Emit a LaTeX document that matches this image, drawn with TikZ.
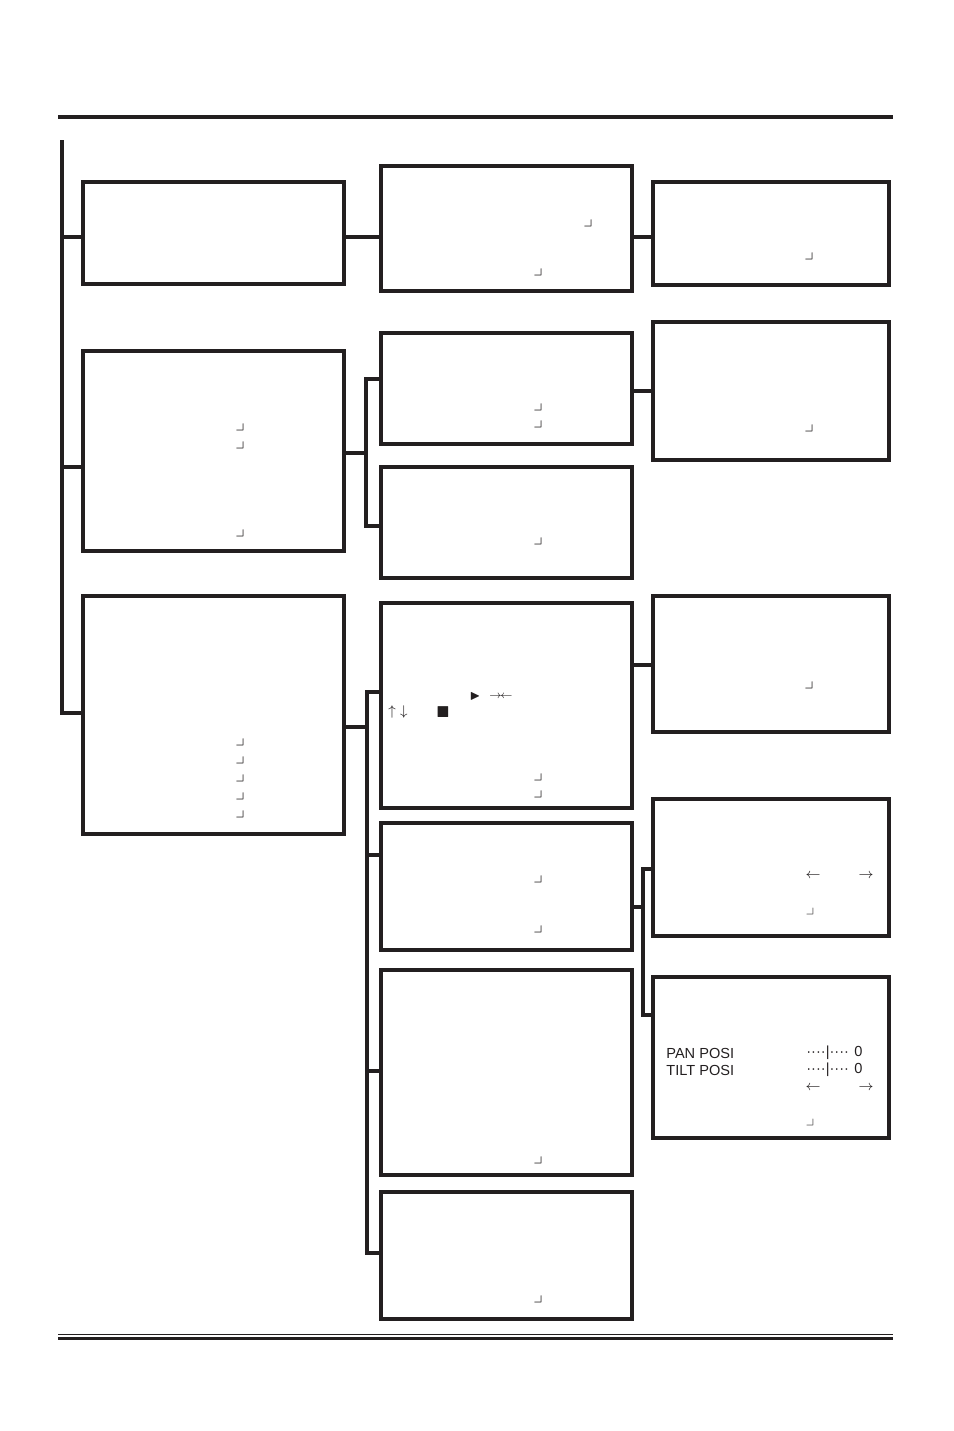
\documentclass[tikz,border=0pt]{standalone}
\usepackage{amssymb}
\usepackage{fontspec}
\newfontfamily\panfont{Liberation Sans}
\usetikzlibrary{positioning, fit}
\definecolor{inkblack}{HTML}{231F20}
\tikzset{%
  menubox/.style={
    draw=inkblack,
    line width=1.9pt,
    inner sep=0pt
  },
  link/.style={draw=inkblack, line width=1.9pt, line join=miter},
  retmark/.style={inner sep=0pt, anchor=base, text height=0.4em, text depth=0pt, text=inkblack, font=\fontsize{10.5}{11}\selectfont},
  smallmark/.style={retmark, text=inkblack!80, font=\normalsize},
  posilabel/.style={inner sep=0pt, anchor=west, text=inkblack, font=\panfont\fontsize{8.3}{10}\selectfont},
  symb/.style={inner sep=0pt, text=inkblack}
}
\newcommand{\entermark}{\smash{$\lrcorner$}}

\begin{document}
\begin{tikzpicture}[x=0.02cm, y=-0.02cm]
		\useasboundingbox (0,0) rectangle (954,1431);
		% page rules
		\coordinate (ruleTL) at (58,117);
		\coordinate (ruleTR) at (893,117);
		\coordinate (ruleBL) at (58,1334.5);
		\coordinate (ruleBR) at (893,1334.5);
		\draw[inkblack, line width=1.9pt] (ruleTL) -- (ruleTR);
		\draw[inkblack, line width=0.7pt] (ruleBL) -- (ruleBR);
		\draw[inkblack, line width=2.1pt] ([yshift=-4*0.02cm]ruleBL) -- ([yshift=-4*0.02cm]ruleBR);
		% first column
		\node[menubox, fit={(83,182) (344,284)}] (boxA) {};
		\node[menubox, fit={(83,351) (344,551)}] (boxB) {};
		\node[menubox, fit={(83,596) (344,834)}] (boxC) {};
		% second column
		\node[menubox, fit={(381,166) (632,291)}] (boxD) {};
		\node[menubox, fit={(381,333) (632,444)}] (boxE) {};
		\node[menubox, fit={(381,467) (632,578)}] (boxF) {};
		\node[menubox, fit={(381,603) (632,808)}] (boxG) {};
		\node[menubox, fit={(381,823) (632,950)}] (boxH) {};
		\node[menubox, fit={(381,970) (632,1175)}] (boxI) {};
		\node[menubox, fit={(381,1192) (632,1319)}] (boxJ) {};
		% third column
		\node[menubox, fit={(653,182) (889,285)}] (boxK) {};
		\node[menubox, fit={(653,322) (889,460)}] (boxL) {};
		\node[menubox, fit={(653,596) (889,732)}] (boxM) {};
		\node[menubox, fit={(653,799) (889,936)}] (boxN) {};
		\node[menubox, fit={(653,977) (889,1138)}] (boxO) {};
		% trunk
		\coordinate (trunkTop) at (62,140);
		\coordinate (jA) at (62,237);
		\coordinate (jB) at (62,467);
		\coordinate (jC) at (62,713);
		\draw[link] (trunkTop) -- (jC) -- (jC -| boxC.west);
		\draw[link] (jA) -- (jA -| boxA.west);
		\draw[link] (jB) -- (jB -| boxB.west);
		% first to second column
		\draw[link] (jA -| boxA.east) -- (jA -| boxD.west);
		\coordinate (bB) at (366,453);
		\coordinate (bE) at (366,379);
		\coordinate (bF) at (366,526);
		\draw[link] (bB -| boxB.east) -- (bB);
		\draw[link] (bE -| boxE.west) -- (bE) -- (bF) -- (bF -| boxF.west);
		\coordinate (cC) at (367,727);
		\coordinate (cG) at (367,692);
		\coordinate (cH) at (367,855);
		\coordinate (cI) at (367,1071);
		\coordinate (cJ) at (367,1253);
		\draw[link] (cC -| boxC.east) -- (cC);
		\draw[link] (cG -| boxG.west) -- (cG) -- (cJ) -- (cJ -| boxJ.west);
		\draw[link] (cH) -- (cH -| boxH.west);
		\draw[link] (cI) -- (cI -| boxI.west);
		% second to third column
		\draw[link] (jA -| boxD.east) -- (jA -| boxK.west);
		\coordinate (jEL) at (640,391);
		\draw[link] (jEL -| boxE.east) -- (jEL -| boxL.west);
		\coordinate (jGM) at (640,665);
		\draw[link] (jGM -| boxG.east) -- (jGM -| boxM.west);
		\coordinate (hH) at (643,907);
		\coordinate (hN) at (643,869);
		\coordinate (hO) at (643,1015);
		\draw[link] (hH -| boxH.east) -- (hH);
		\draw[link] (hN -| boxN.west) -- (hN) -- (hO) -- (hO -| boxO.west);
		% marks, first column
		\node[retmark] (mB1) at (240,430) {\entermark};
		\node[retmark] (mB2) at (240,448) {\entermark};
		\node[retmark] (mB3) at (240,536) {\entermark};
		\node[retmark] (mC1) at (240,745) {\entermark};
		\node[retmark] (mC2) at (240,763) {\entermark};
		\node[retmark] (mC3) at (240,781) {\entermark};
		\node[retmark] (mC4) at (240,799) {\entermark};
		\node[retmark] (mC5) at (240,817) {\entermark};
		% marks, second column
		\node[retmark] (mD1) at (588,226) {\entermark};
		\node[retmark] (mD2) at (538,275) {\entermark};
		\node[retmark] (mE1) at (538,410) {\entermark};
		\node[retmark] (mE2) at (538,427) {\entermark};
		\node[retmark] (mF1) at (538,544) {\entermark};
		\node[retmark] (mG1) at (538,780) {\entermark};
		\node[retmark] (mG2) at (538,797) {\entermark};
		\node[retmark] (mH1) at (538,882) {\entermark};
		\node[retmark] (mH2) at (538,932) {\entermark};
		\node[retmark] (mI1) at (538,1163) {\entermark};
		\node[retmark] (mJ1) at (538,1302) {\entermark};
		% marks, third column
		\node[retmark] (mK1) at (809,259) {\entermark};
		\node[retmark] (mL1) at (809,431) {\entermark};
		\node[retmark] (mM1) at (809,688) {\entermark};
		\node[smallmark] (mN1) at (810,914) {\entermark};
		\node[smallmark] (mO1) at (810,1125) {\entermark};
		% symbols in box G
		\node[symb, font=\scriptsize] (playG) at (475,696) {$\blacktriangleright$};
		\node[symb, font=\fontsize{6}{7}\selectfont] (inG) at (501,696) {$\rightarrow\!\leftarrow$};
		\node[symb, font=\footnotesize] (updownG) at (398,712) {$\uparrow\;\downarrow$};
		\node[symb, font=\small] (stopG) at (443,712) {$\blacksquare$};
		% box N
		\node[symb, font=\footnotesize] (leftN) at (813,876) {$\leftarrow$};
		\node[symb, font=\footnotesize] (rightN) at (866,876) {$\rightarrow$};
		% box O
		\node[posilabel] (pan) at (666,1053) {PAN POSI};
		\node[posilabel] (tilt) at (666,1070) {TILT POSI};
		\node[posilabel] (panbar) at (806,1053) {····|····\hspace{3pt}0};
		\node[posilabel] (tiltbar) at (806,1070) {····|····\hspace{3pt}0};
		\node[symb, font=\footnotesize] (leftO) at (813,1088) {$\leftarrow$};
		\node[symb, font=\footnotesize] (rightO) at (866,1088) {$\rightarrow$};
\end{tikzpicture}
\end{document}
